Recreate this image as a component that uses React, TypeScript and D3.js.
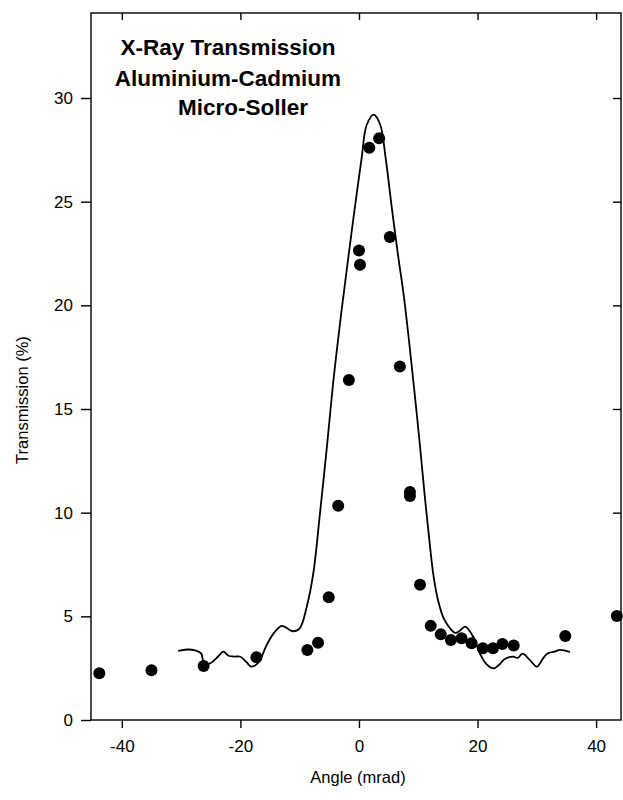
import React, { useRef, useEffect } from "react";
import * as d3 from "d3";

// measured points (angle in mrad, transmission in %)
const pointAngle = [
  -43.8, -35.0, -26.2, -17.3, -8.7, -6.9, -5.1, -3.5, -1.7, 0.0, 0.17, 1.75, 3.4, 5.2, 6.9, 8.6, 8.6,
  10.3, 12.1, 13.8, 15.5, 17.3, 19.0, 20.9, 22.6, 24.2, 26.1, 34.8, 43.5,
];
const pointValue = [
  2.25, 2.4, 2.6, 3.03, 3.38, 3.73, 5.92, 10.33, 16.4, 22.65, 21.96, 27.6, 28.06, 23.3, 17.05, 11.0, 10.8,
  6.52, 4.54, 4.13, 3.86, 3.94, 3.7, 3.46, 3.46, 3.67, 3.59, 4.05, 5.02,
];

// calculated curve
const curveAngle = [
  -30.5, -29, -27.5, -26.6, -26.1, -25, -23.8, -22.9, -22, -21, -20, -19, -18.2, -17, -15.6, -14.4, -13,
  -12, -11.2, -10, -8.8, -7.7, -6.6, -5.4, -4.3, -3.0, -1.8, -0.7, 0.45, 1.3, 2.5, 3.6, 4.5, 5.5, 6.6, 7.5,
  8.4, 9.3, 10.3, 11.1, 11.9, 12.6, 13.4, 14.3, 15.3, 16.2, 17.0, 17.9, 19.3, 20.4, 21.5, 22.7, 23.6, 24.4,
  25.2, 26.0, 26.8, 27.6, 28.8, 30.0, 31.0, 31.8, 33.0, 33.9, 35.6,
];
const curveValue = [
  3.33, 3.4, 3.35, 3.2, 2.7, 2.75, 3.05, 3.3, 3.1, 3.06, 3.05, 2.8, 2.58, 2.75, 3.6, 4.18, 4.54, 4.4, 4.28,
  4.42, 5.47, 7.08, 9.9, 13.2, 16.4, 19.6, 22.3, 24.7, 27.1, 28.7, 29.2, 28.7, 27.1, 24.8, 22.4, 20.6, 18.4,
  16.0, 13.2, 10.8, 8.6, 6.9, 5.7, 4.9, 4.45, 4.2, 4.3, 4.5, 4.0, 3.2, 2.7, 2.49, 2.65, 2.9, 3.02, 3.06, 3.0,
  3.2, 2.9, 2.57, 2.95, 3.21, 3.3, 3.38, 3.28,
];

const xTicks = [-40, -20, 0, 20, 40];
const yTicks = [0, 5, 10, 15, 20, 25, 30];
const titleLines = ["X-Ray Transmission", "Aluminium-Cadmium", "Micro-Soller"];

export default function App() {
  const ref = useRef<SVGSVGElement | null>(null);

  useEffect(() => {
    const width = 623;
    const height = 800;
    const left = 91, right = 621, top = 13, bottom = 720;
    const font = "'Liberation Sans', Arial, Helvetica, sans-serif";

    const svg = d3.select(ref.current);
    svg.selectAll("*").remove();
    svg.attr("width", width).attr("height", height).style("background", "#fff");

    const x = d3.scaleLinear().domain([-45.2, 44.2]).range([left, right]);
    const y = d3.scaleLinear().domain([0, 34.1]).range([bottom, top]);

    // frame
    svg
      .append("rect")
      .attr("x", left)
      .attr("y", top)
      .attr("width", right - left)
      .attr("height", bottom - top)
      .attr("fill", "none")
      .attr("stroke", "#000")
      .attr("stroke-width", 1.4);

    // axes (hyphen minus like the original)
    const fmt = (d: d3.NumberValue) => String(d);
    const xAxis = svg
      .append("g")
      .attr("transform", `translate(0,${bottom})`)
      .call(d3.axisBottom(x).tickValues(xTicks).tickFormat(fmt).tickSize(8).tickPadding(12).tickSizeOuter(0));
    const yAxis = svg
      .append("g")
      .attr("transform", `translate(${left},0)`)
      .call(d3.axisLeft(y).tickValues(yTicks).tickFormat(fmt).tickSize(10).tickPadding(8).tickSizeOuter(0));
    // mirrored inner ticks
    svg
      .append("g")
      .attr("transform", `translate(0,${top})`)
      .call(d3.axisBottom(x).tickValues(xTicks).tickSize(7).tickFormat(() => "").tickSizeOuter(0));
    svg
      .append("g")
      .attr("transform", `translate(${right},0)`)
      .call(d3.axisRight(y).tickValues(yTicks.slice(1)).tickSize(-8).tickFormat(() => "").tickSizeOuter(0));

    svg.selectAll(".domain").attr("stroke", "none");
    svg.selectAll(".tick line").attr("stroke", "#000").attr("stroke-width", 1.4);
    [xAxis, yAxis].forEach((g) =>
      g.selectAll("text").attr("font-family", font).attr("font-size", 17).attr("fill", "#000")
    );

    // axis titles
    svg
      .append("text")
      .attr("x", 358)
      .attr("y", 783)
      .attr("text-anchor", "middle")
      .attr("font-family", font)
      .attr("font-size", 16.5)
      .text("Angle (mrad)");
    svg
      .append("text")
      .attr("transform", "translate(28,400) rotate(-90)")
      .attr("text-anchor", "middle")
      .attr("font-family", font)
      .attr("font-size", 16.5)
      .text("Transmission (%)");

    // title
    const titleX = [228, 228, 243];
    const titleY = [55, 86, 115];
    titleLines.forEach((t, i) => {
      svg
        .append("text")
        .attr("x", titleX[i])
        .attr("y", titleY[i])
        .attr("text-anchor", "middle")
        .attr("font-family", font)
        .attr("font-weight", "bold")
        .attr("font-size", 22.5)
        .text(t);
    });

    // curve
    const line = d3
      .line<number>()
      .x((d) => x(curveAngle[d]))
      .y((d) => y(curveValue[d]))
      .curve(d3.curveCatmullRom.alpha(0.5));
    svg
      .append("path")
      .attr("d", line(d3.range(curveAngle.length)))
      .attr("fill", "none")
      .attr("stroke", "#000")
      .attr("stroke-width", 1.8);

    // points
    svg
      .append("g")
      .selectAll("circle")
      .data(d3.range(pointAngle.length))
      .join("circle")
      .attr("cx", (i) => x(pointAngle[i]))
      .attr("cy", (i) => y(pointValue[i]))
      .attr("r", 6)
      .attr("fill", "#000");
  }, []);

  return <svg ref={ref} style={{ position: "absolute", left: 0, top: 0, display: "block" }}></svg>;
}
